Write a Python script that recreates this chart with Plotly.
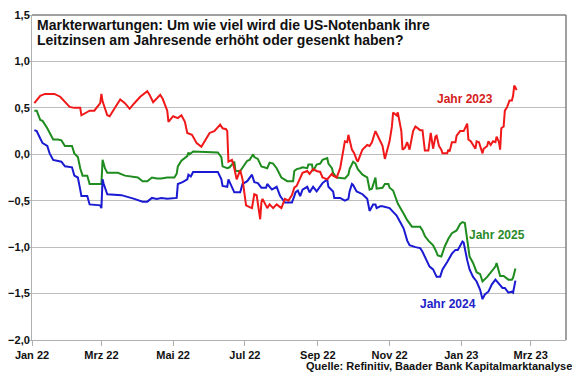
import pandas as pd
import plotly.graph_objects as go

base_date = pd.Timestamp("2022-01-01")

# Jahr 2023 (red): day offsets from base_date and values
days_2023 = [2,7,11,19,24,28,32,36,41,42,45,49,53,58,59,60,64,66,70,75,79,83,87,92,98,100,103,106,109,111,
             115,116,120,124,127,130,132,136,140,144,147,151,155,160,162,165,166,167,170,172,174,177,179,182,
             185,187,189,191,194,195,196,200,202,205,208,212,215,218,221,223,225,228,230,234,236,239,242,245,
             247,251,255,256,259,262,264,266,268,269,272,274,276,277,280,281,285,287,289,292,295,298,300,302,
             304,306,307,310,311,314,315,317,319,321,324,326,330,332,334,337,339,341,343,344,346,348,349,353,
             354,355,357,360,361,364,367,370,371,373,375,377,378,380,383,384,387,388,390,392,394,395,397,398,
             399,401,402,404,406,408,409,410,411,412]
vals_2023 = [0.55,0.63,0.65,0.65,0.62,0.56,0.51,0.50,0.50,0.42,0.44,0.47,0.47,0.55,0.65,0.57,0.42,0.41,0.49,0.59,
             0.55,0.49,0.55,0.62,0.68,0.64,0.56,0.60,0.64,0.60,0.47,0.35,0.41,0.39,0.42,0.35,0.23,0.21,0.12,0.08,
             0.14,0.23,0.25,0.32,0.28,0.27,0.25,-0.08,-0.06,-0.15,-0.27,-0.17,-0.27,-0.55,-0.57,-0.58,-0.43,-0.44,
             -0.70,-0.52,-0.48,-0.58,-0.54,-0.58,-0.54,-0.58,-0.48,-0.50,-0.44,-0.36,-0.34,-0.25,-0.20,-0.18,-0.21,
             -0.16,-0.18,-0.19,-0.25,-0.27,-0.21,-0.23,-0.25,-0.15,0.01,0.14,0.13,0.21,0.05,0.01,-0.06,-0.08,0.02,
             0.05,0.10,0.09,0.13,0.25,0.17,0.09,-0.05,0.05,0.14,0.30,0.45,0.42,0.45,0.25,0.05,0.07,0.13,0.05,0.25,
             0.30,0.26,0.26,0.04,0.04,0.23,0.06,0.19,0.20,0.09,0.05,0.01,0.01,0.05,0.03,0.13,0.13,0.20,0.25,0.25,
             0.33,0.16,0.14,0.10,0.06,0.14,0.13,0.01,0.06,0.09,0.14,0.10,0.14,0.13,0.19,0.13,0.05,0.28,0.30,0.47,
             0.51,0.58,0.58,0.63,0.74,0.72,0.69]

# Jahr 2025 (green)
days_2025 = [2,4,7,9,13,15,18,22,25,28,34,36,39,41,43,47,49,59,60,62,64,73,79,90,94,98,102,106,110,115,121,123,
             124,127,132,133,134,137,158,161,162,166,168,172,173,177,179,183,185,188,189,192,195,200,202,205,208,
             212,217,222,223,225,228,230,234,235,238,239,242,245,247,251,252,255,256,259,266,269,270,272,273,275,
             277,281,285,287,289,292,293,298,300,303,304,307,309,311,316,319,323,330,332,334,337,341,343,345,348,
             351,354,357,361,364,366,368,370,372,375,378,381,383,387,391,394,395,396,398,401,405,408,409,411]
vals_2025 = [0.47,0.47,0.37,0.36,0.28,0.23,0.16,0.16,0.15,0.09,0.09,0.01,-0.03,-0.15,-0.23,-0.23,-0.32,-0.32,-0.06,
             -0.15,-0.20,-0.20,-0.23,-0.25,-0.29,-0.29,-0.25,-0.26,-0.26,-0.25,-0.25,-0.21,-0.13,-0.07,-0.02,0.02,
             0.00,0.03,0.02,-0.03,-0.13,-0.15,-0.14,-0.08,-0.18,-0.18,-0.14,-0.07,-0.06,0.00,-0.03,-0.05,-0.13,-0.15,
             -0.09,-0.10,-0.15,-0.25,-0.29,-0.29,-0.18,-0.16,-0.15,-0.14,-0.15,-0.11,-0.11,-0.18,-0.11,-0.10,-0.06,
             -0.04,-0.10,-0.15,-0.20,-0.25,-0.26,-0.22,-0.16,-0.10,-0.08,-0.10,-0.16,-0.22,-0.25,-0.38,-0.37,-0.25,
             -0.37,-0.36,-0.32,-0.32,-0.36,-0.39,-0.45,-0.53,-0.64,-0.71,-0.78,-0.78,-0.82,-0.88,-0.93,-0.98,-1.03,
             -1.09,-1.10,-0.99,-0.91,-0.85,-0.82,-0.75,-0.73,-0.74,-0.92,-1.10,-1.17,-1.27,-1.29,-1.37,-1.32,-1.26,
             -1.21,-1.17,-1.21,-1.31,-1.31,-1.35,-1.35,-1.33,-1.23]

# Jahr 2024 (blue)
days_2024 = [2,4,7,9,13,15,18,22,25,28,34,36,39,41,42,47,49,58,59,60,61,64,76,87,94,98,102,106,110,115,123,124,
             128,132,133,135,137,158,161,162,166,167,170,172,177,179,183,187,189,192,195,199,200,204,208,211,215,
             221,223,224,226,228,230,234,236,239,242,245,247,251,252,256,257,262,266,269,270,272,273,276,279,281,
             285,287,290,292,293,296,298,302,304,307,310,313,316,319,321,326,330,332,336,338,341,344,347,349,353,
             357,360,362,366,367,370,372,375,378,381,383,385,388,391,394,396,400,402,405,408,409,411]
vals_2024 = [0.26,0.25,0.17,0.12,0.09,0.01,-0.06,-0.07,-0.08,-0.13,-0.14,-0.23,-0.25,-0.38,-0.45,-0.45,-0.54,-0.55,
             -0.58,-0.27,-0.32,-0.43,-0.44,-0.48,-0.51,-0.51,-0.47,-0.48,-0.47,-0.48,-0.47,-0.32,-0.30,-0.27,-0.22,
             -0.24,-0.19,-0.19,-0.27,-0.34,-0.35,-0.27,-0.35,-0.41,-0.41,-0.32,-0.29,-0.22,-0.30,-0.31,-0.36,-0.36,
             -0.32,-0.38,-0.35,-0.45,-0.52,-0.52,-0.45,-0.41,-0.39,-0.45,-0.38,-0.35,-0.41,-0.35,-0.40,-0.35,-0.31,
             -0.27,-0.35,-0.40,-0.47,-0.47,-0.50,-0.48,-0.40,-0.32,-0.33,-0.40,-0.42,-0.43,-0.48,-0.61,-0.54,-0.54,
             -0.58,-0.56,-0.56,-0.57,-0.58,-0.62,-0.66,-0.73,-0.80,-0.93,-0.98,-1.00,-1.01,-1.05,-1.17,-1.21,-1.24,
             -1.32,-1.32,-1.24,-1.16,-1.07,-1.03,-1.03,-0.94,-0.95,-1.14,-1.24,-1.32,-1.37,-1.46,-1.56,-1.51,-1.48,
             -1.40,-1.35,-1.38,-1.44,-1.44,-1.49,-1.48,-1.49,-1.36]

tick_dates = ["2022-01-01","2022-03-01","2022-05-01","2022-07-01","2022-09-01","2022-11-01","2023-01-01","2023-03-01"]
tick_labels = ["Jan 22","Mrz 22","Mai 22","Jul 22","Sep 22","Nov 22","Jan 23","Mrz 23"]

def to_dates(days):
    return base_date + pd.to_timedelta(days, unit="D")

FONT = "Liberation Sans, Arial, sans-serif"
RED, GREEN, BLUE = "#f01818", "#1e8c1e", "#1a1ad2"

fig = go.Figure()
for d, v, c in [(days_2025, vals_2025, GREEN), (days_2024, vals_2024, BLUE), (days_2023, vals_2023, RED)]:
    fig.add_trace(go.Scatter(x=to_dates(d), y=v, mode="lines",
                             line=dict(color=c, width=2), hoverinfo="skip"))

# page body adds an 8px margin, so the figure is sized to fit inside it
fig.update_layout(
    width=572, height=367,
    margin=dict(l=24, r=14, t=7, b=35),
    paper_bgcolor="white", plot_bgcolor="white",
    showlegend=False,
    separators=",.",
    font=dict(family=FONT, size=11, color="#111111"),
    xaxis=dict(type="date", range=["2022-01-01", "2023-03-31"],
               tickvals=tick_dates, ticktext=tick_labels,
               ticks="outside", ticklen=5, tickcolor="#b0b0b0",
               showline=True, linecolor="#b0b0b0", linewidth=1,
               showgrid=False, zeroline=False, ticklabeloverflow="allow",
               automargin=False,
               tickfont=dict(family=FONT, size=11, color="#111111", weight="bold")),
    yaxis=dict(range=[-2, 1.5], dtick=0.5, tick0=0, tickformat=".1f",
               ticks="outside", ticklen=3, tickcolor="#b0b0b0",
               ticklabelstandoff=-4,
               showline=True, linecolor="#b0b0b0", linewidth=1,
               showgrid=True, gridcolor="#bdbdbd", gridwidth=1, zeroline=False,
               ticklabeloverflow="allow", automargin=False,
               tickfont=dict(family=FONT, size=11, color="#111111", weight="bold")),
)

# plot frame top and right
fig.add_shape(type="line", xref="paper", yref="paper", x0=0, x1=1, y0=1, y1=1,
              line=dict(color="#808080", width=1.5))
fig.add_shape(type="line", xref="paper", yref="paper", x0=1, x1=1, y0=0, y1=1,
              line=dict(color="#808080", width=1.5))

title_font = dict(family=FONT, size=14, color="#111111")
fig.add_annotation(text="<b>Markterwartungen: Um wie viel wird die US-Notenbank ihre</b>",
                   xref="paper", yref="paper", x=0.006, y=0.968, xanchor="left", yanchor="middle",
                   showarrow=False, font=title_font)
fig.add_annotation(text="<b>Leitzinsen am Jahresende erhöht oder gesenkt haben?</b>",
                   xref="paper", yref="paper", x=0.006, y=0.922, xanchor="left", yanchor="middle",
                   showarrow=False, font=title_font)

lab_font = 12
fig.add_annotation(text="<b>Jahr 2023</b>", x=base_date + pd.Timedelta(days=368), y=0.60,
                   showarrow=False, font=dict(family=FONT, size=lab_font, color="#d42020"))
fig.add_annotation(text="<b>Jahr 2025</b>", x=base_date + pd.Timedelta(days=395), y=-0.866,
                   showarrow=False, font=dict(family=FONT, size=lab_font, color="#2a8a2a"))
fig.add_annotation(text="<b>Jahr 2024</b>", x=base_date + pd.Timedelta(days=354), y=-1.617,
                   showarrow=False, font=dict(family=FONT, size=lab_font, color="#2222c8"))

fig.add_annotation(text="<b>Quelle: Refinitiv, Baader Bank Kapitalmarktanalyse</b>",
                   xref="paper", yref="paper", x=1.015, y=-0.080, xanchor="right", yanchor="middle",
                   showarrow=False, font=dict(family=FONT, size=11, color="#111111"))

fig.write_html("out.html")
